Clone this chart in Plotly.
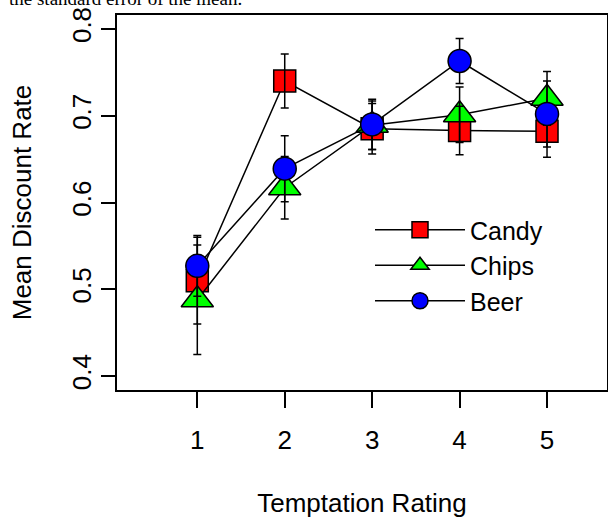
import plotly.graph_objects as go

ratings = [1, 2, 3, 4, 5]
tick_labels = ["1", "2", "3", "4", "5"]
y_ticks = [0.4, 0.5, 0.6, 0.7, 0.8]

candy = [0.510, 0.740, 0.685, 0.683, 0.682]
candy_se = [0.050, 0.031, 0.029, 0.028, 0.030]
chips = [0.488, 0.617, 0.689, 0.701, 0.720]
chips_se = [0.063, 0.036, 0.028, 0.032, 0.031]
beer = [0.527, 0.639, 0.690, 0.763, 0.702]
beer_se = [0.035, 0.038, 0.029, 0.026, 0.038]

FONT = "Liberation Sans, Arial, sans-serif"
FS = 26
W, H = 608, 518
ML, MR, MT, MB = 117, 1, 15, 128

fig = go.Figure()

def err(se):
    return dict(type="data", array=se, visible=True, color="black", thickness=1.5, width=4)

# Candy and Chips lines/markers
fig.add_trace(go.Scatter(x=ratings, y=candy, name="Candy", mode="lines+markers",
                         line=dict(color="black", width=1.5),
                         marker=dict(symbol="square", size=22, color="#FF0000",
                                     line=dict(color="black", width=1.5))))
fig.add_trace(go.Scatter(x=ratings, y=chips, name="Chips", mode="lines+markers",
                         line=dict(color="black", width=1.5),
                         marker=dict(symbol="triangle-up", size=28, color="#00FF00",
                                     line=dict(color="black", width=1.5))))
# Error bars for Candy and Chips drawn above their markers
fig.add_trace(go.Scatter(x=ratings, y=candy, mode="markers", showlegend=False, hoverinfo="skip",
                         marker=dict(size=1, color="rgba(0,0,0,0)"), error_y=err(candy_se)))
fig.add_trace(go.Scatter(x=ratings, y=chips, mode="markers", showlegend=False, hoverinfo="skip",
                         marker=dict(size=1, color="rgba(0,0,0,0)"), error_y=err(chips_se)))
# Beer
fig.add_trace(go.Scatter(x=ratings, y=beer, name="Beer", mode="lines+markers",
                         line=dict(color="black", width=1.5),
                         error_y=err(beer_se),
                         marker=dict(symbol="circle", size=23, color="#0000FF",
                                     line=dict(color="black", width=1.5))))

plot_w = W - ML - MR
plot_h = H - MT - MB
px_per_unit = 87.43
x0 = 1 - (197.3 - ML) / px_per_unit
x1 = x0 + plot_w / px_per_unit

fig.update_layout(
    width=W, height=H,
    margin=dict(l=ML, r=MR, t=MT, b=MB, pad=0),
    paper_bgcolor="white", plot_bgcolor="white",
    font=dict(family=FONT, size=FS, color="black"),
    showlegend=True,
    legend=dict(x=(370 - ML) / plot_w, xanchor="left",
                y=1 - (207 - MT) / plot_h, yanchor="top",
                bgcolor="rgba(0,0,0,0)", borderwidth=0,
                itemwidth=90, font=dict(family=FONT, size=25, color="black"),
                traceorder="normal"),
    xaxis=dict(range=[x0, x1], tickvals=ratings, ticktext=tick_labels,
               showgrid=False, zeroline=False, automargin=False,
               showline=True, linecolor="black", linewidth=1.5, mirror=True,
               ticks="outside", ticklen=16, tickwidth=1.5, tickcolor="black",
               tickfont=dict(family=FONT, size=FS),
               ticklabelstandoff=10,
               title=dict(text="Temptation Rating", font=dict(family=FONT, size=FS), standoff=50)),
    yaxis=dict(range=[0.384, 0.816], tickvals=y_ticks, ticktext=[f"{v:.1f}" for v in y_ticks],
               showgrid=False, zeroline=False, automargin=False,
               showline=True, linecolor="black", linewidth=1.5, mirror=True,
               ticks="outside", ticklen=14, tickwidth=1.5, tickcolor="black",
               tickangle=-90,
               tickfont=dict(family=FONT, size=FS),
               title=dict(text="Mean Discount Rate", font=dict(family=FONT, size=FS), standoff=28)),
)

fig.add_annotation(text="the standard error of the mean.", xref="paper", yref="paper",
                   x=-(ML - 7) / plot_w, xanchor="left", y=1, yanchor="middle", yshift=17,
                   showarrow=False,
                   font=dict(family="Liberation Serif, Times New Roman, serif", size=19, color="black"))

fig.write_html("out.html",
               config={"displayModeBar": False},
               post_script="document.body.style.margin='0';document.body.style.padding='0';")
